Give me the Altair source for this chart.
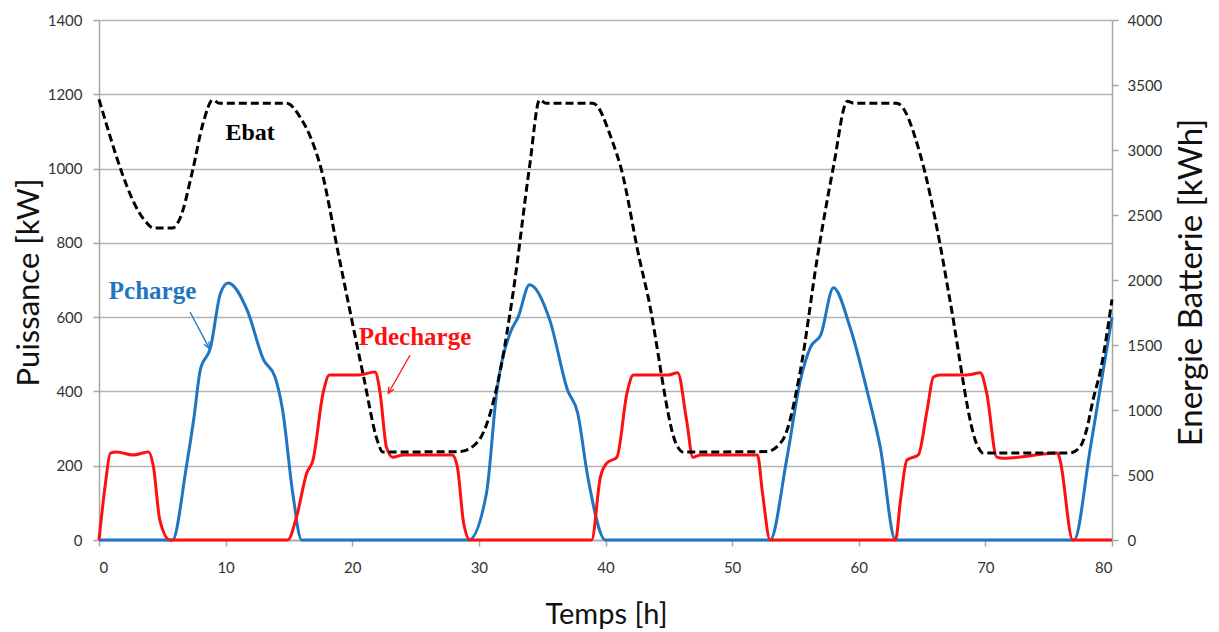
import altair as alt
import pandas as pd

# ---- data ----
t_charge = [0, 5.8, 6.9, 7.5, 8.0, 8.8, 9.6, 10.2, 11.7, 13.0, 13.9, 14.5, 15.3, 16.0,
            29.2, 30.6, 31.4, 32.5, 33.1, 34.0, 35.6, 37.0, 37.8, 38.6, 40.0,
            53.0, 54.3, 55.4, 56.2, 57.0, 58.0, 59.3, 60.7, 61.7, 62.9,
            77.0, 78.3, 80.0]
p_charge = [0, 0, 197, 330, 458, 517, 665, 692, 619, 485, 439, 350, 126, 0,
            0, 126, 396, 560, 600, 687, 592, 404, 342, 170, 0,
            0, 215, 431, 520, 552, 679, 574, 396, 250, 0,
            0, 250, 600]

t_decharge = [0, 0.5, 0.9, 1.4, 2.7, 3.9, 4.3, 4.8, 5.6,
              14.9, 15.6, 16.4, 16.9, 17.7, 18.2, 20.4, 21.8, 22.2, 22.7, 23.2, 24.0, 27.9, 28.3, 28.8, 29.3,
              38.9, 39.6, 40.1, 40.9, 41.7, 42.2, 44.9, 45.7, 46.4, 46.9, 47.5, 52.0, 52.4, 53.0,
              62.9, 63.3, 63.8, 64.7, 65.4, 65.9, 66.4, 68.5, 69.6, 70.1, 70.9, 71.4, 75.7, 75.9, 76.9, 80.0]
p_decharge = [0, 150, 234, 237, 229, 237, 197, 54, 0,
              0, 62, 180, 215, 396, 444, 444, 452, 396, 250, 223, 229, 229, 197, 45, 0,
              0, 170, 207, 223, 396, 444, 444, 450, 323, 223, 229, 229, 126, 0,
              0, 108, 215, 229, 350, 439, 444, 444, 450, 396, 223, 220, 234, 215, 0, 0]

t_ebat = [0, 3.6, 4.3, 5.8, 6.4, 7.4, 8.2, 9.0, 9.5, 14.8, 15.9, 16.7, 17.5, 19.0, 20.9, 22.0, 22.4,
          28.5, 29.9, 31.7, 32.7, 34.0, 34.8, 35.3, 39.0, 40.6, 41.2, 42.7, 43.3, 45.7, 46.1,
          52.7, 54.0, 55.4, 56.7, 58.0, 59.1, 59.6, 63.0, 64.9, 66.4, 67.2, 69.4, 69.8,
          76.7, 77.5, 78.0, 78.5, 79.1, 80.0]
e_bat = [3390, 2460, 2400, 2400, 2475, 2846, 3200, 3385, 3360, 3360, 3250, 3100, 2870, 2154, 1254, 760, 677,
         680, 754, 1308, 1900, 2870, 3385, 3360, 3360, 3050, 2870, 2154, 1900, 715, 677,
         680, 770, 1308, 2154, 2870, 3375, 3360, 3360, 2950, 2285, 1846, 720, 670,
         670, 720, 850, 1077, 1308, 1850]

# annotations (in power units)
ann_text = ["Ebat", "Pcharge", "Pdecharge"]
ann_t = [11.93, 4.23, 24.96]
ann_v = [1077, 649, 525]
ann_color = ["#000000", "#1F75C0", "#FF1010"]
ann_size = [24, 25, 25]

arrow_t = [7.19, 24.57]
arrow_v = [614, 498]
arrow_t2 = [8.71, 22.85]
arrow_v2 = [516, 395]
arrow_angle = [152, 209.5]
arrow_color = ["#1F75C0", "#FF1010"]

BLUE = "#1F75C0"
RED = "#FF1010"

power_df = pd.concat([
    pd.DataFrame({"t": t_charge, "value": p_charge, "serie": "Pcharge"}),
    pd.DataFrame({"t": t_decharge, "value": p_decharge, "serie": "Pdecharge"}),
])
ebat_df = pd.DataFrame({"t": t_ebat, "energie": e_bat})
ann_df = pd.DataFrame({"label": ann_text, "t": ann_t, "value": ann_v, "col": ann_color, "fs": ann_size})
arr_df = pd.DataFrame({"t": arrow_t, "value": arrow_v, "t2": arrow_t2, "value2": arrow_v2,
                       "col": arrow_color, "ang": arrow_angle})
head_df = pd.DataFrame({"t": arrow_t2, "value": arrow_v2, "col": arrow_color, "ang": arrow_angle})

X = alt.X("t:Q",
          scale=alt.Scale(domain=[0, 80], nice=False, zero=False),
          axis=alt.Axis(values=list(range(0, 81, 10)), format="d", title="Temps [h]", grid=False,
                        labelPadding=14, titleX=507, titleY=74, titleAlign="center",
                        titleBaseline="middle", titleFontSize=29))
Y = alt.Y("value:Q",
          scale=alt.Scale(domain=[0, 1400], nice=False),
          axis=alt.Axis(values=list(range(0, 1401, 200)), format="d", title="Puissance [kW]", grid=True,
                        labelPadding=11, titleX=-70, titleY=262, titleAngle=270,
                        titleAlign="center", titleBaseline="middle", titleFontSize=31))

power = alt.Chart(power_df).mark_line(interpolate="monotone", strokeWidth=3).encode(
    x=X, y=Y,
    color=alt.Color("serie:N", scale=alt.Scale(domain=["Pcharge", "Pdecharge"], range=[BLUE, RED]),
                    legend=None),
)

texts = alt.Chart(ann_df).mark_text(font="Liberation Serif", fontWeight="bold", baseline="alphabetic",
                                    align="center").encode(
    x=X, y=Y, text="label:N",
    color=alt.Color("col:N", scale=None),
    size=alt.Size("fs:Q", scale=None),
)

arrows = alt.Chart(arr_df).mark_rule(strokeWidth=1.3).encode(
    x=X, y=Y, x2="t2:Q", y2="value2:Q",
    color=alt.Color("col:N", scale=None),
)

heads = alt.Chart(head_df).mark_point(shape="M-0.6,1.3L0,0L0.6,1.3", filled=False, size=90,
                                      strokeWidth=1.3, opacity=1).encode(
    x=X, y=Y,
    color=alt.Color("col:N", scale=None),
    angle=alt.Angle("ang:Q", scale=None),
)

left = alt.layer(power, arrows, heads, texts)

ebat = alt.Chart(ebat_df).mark_line(interpolate="monotone", strokeWidth=3, color="black",
                                    strokeDash=[8, 4]).encode(
    x=X,
    y=alt.Y("energie:Q",
            scale=alt.Scale(domain=[0, 4000], nice=False),
            axis=alt.Axis(orient="right", values=list(range(0, 4001, 500)), format="d", grid=False,
                          title="Energie Batterie [kWh]", labelPadding=9,
                          titleX=79, titleY=262, titleAngle=270, titleAlign="center",
                          titleBaseline="middle", titleFontSize=33)),
)

chart = alt.layer(left, ebat).resolve_scale(y="independent").properties(
    width=1013, height=520,
    padding={"left": 91, "top": 12, "right": 96, "bottom": 92},
    autosize=alt.AutoSizeParams(type="none"),
).configure_view(stroke=None).configure_axis(
    labelFont="Lato", labelFontSize=15, labelColor="#333333",
    titleFont="Lato", titleFontWeight="normal", titleColor="#111111",
    domainColor="#a6a6a6", domainWidth=1.5, tickColor="#a6a6a6", tickSize=6, tickWidth=1.5,
    gridColor="#b3b3b3", gridWidth=1.5,
)

chart.save("out.html", embed_options={"renderer": "svg", "actions": False})
